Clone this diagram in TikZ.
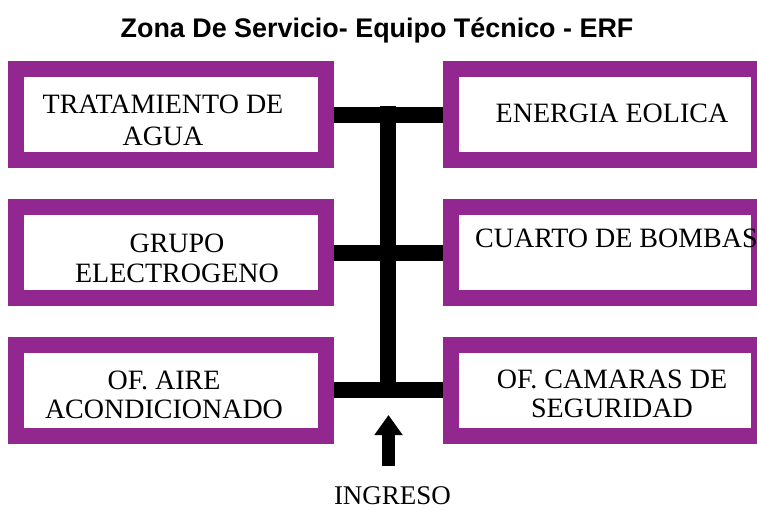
\documentclass[tikz,border=0pt]{standalone}
\usepackage{fontspec}
\setmainfont{Liberation Serif}
\newfontfamily\titlefont{Liberation Sans}
\usetikzlibrary{arrows.meta}
\definecolor{boxpurple}{RGB}{146,39,143}
\tikzset{
  roombox/.style={draw=boxpurple, line width=16pt, fill=white, minimum height=91pt, inner sep=0pt},
  leftbox/.style={roombox, minimum width=310pt},
  rightbox/.style={roombox, minimum width=308pt},
  roomtext/.style={inner sep=0pt, align=center, font=\fontsize{28}{#1}\selectfont},
  roomtext/.default=31,
  bar/.style={draw=black, line width=16pt, line cap=butt},
  entryarrow/.style={draw=black, line width=13pt, -{Triangle[width=27pt,length=20pt]}},
}
\begin{document}
\begin{tikzpicture}[x=1pt, y=-1pt]
\useasboundingbox (0,0) rectangle (757,509);
% title
\node[inner sep=0pt, anchor=base, font=\titlefont\bfseries\fontsize{26.9}{30}\selectfont] (title) at (377,37) {Zona De Servicio- Equipo Técnico - ERF};
% boxes
\node[leftbox] (L1) at (171,114.5) {};
\node[leftbox] (L2) at (171,252.5) {};
\node[leftbox] (L3) at (171,390) {};
\node[rightbox] (R1) at (605,114.5) {};
\node[rightbox] (R2) at (605,252.5) {};
\node[rightbox] (R3) at (605,390) {};
% texts
\node[roomtext=32] (tL1) at (163,120) {TRATAMIENTO DE\\AGUA};
\node[roomtext=30] (tL2) at (177,258.5) {GRUPO\\ELECTROGENO};
\node[roomtext=29] (tL3) at (164,394.5) {OF. AIRE\\ACONDICIONADO};
\node[roomtext] (tR1) at (612,113) {ENERGIA EOLICA};
\node[roomtext, anchor=west] (tR2) at (475,238) {CUARTO DE BOMBAS};
\node[roomtext=29] (tR3) at (612,393.5) {OF. CAMARAS DE\\SEGURIDAD};
% connectors
\coordinate (jt) at (387.5,105.5);
\coordinate (jb) at (387.5,397);
\draw[bar] (L1) -- (R1);
\draw[bar] (L2) -- (R2);
\draw[bar] (L3) -- (R3);
\draw[bar] (jt) -- (jb);
% entrance
\node[inner sep=0pt, anchor=base, font=\fontsize{27}{30}\selectfont] (ingreso) at (392.5,504.5) {INGRESO};
\coordinate (arrowstart) at (388.5,466);
\coordinate (arrowtip) at (388.5,415);
\draw[entryarrow] (arrowstart) -- (arrowtip);
\end{tikzpicture}
\end{document}
